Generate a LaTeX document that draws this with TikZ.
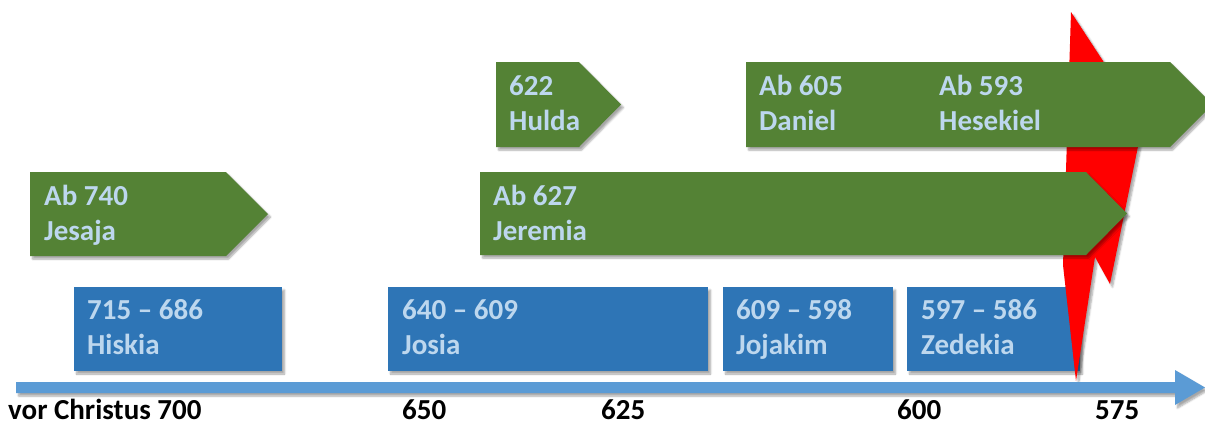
\documentclass[tikz,border=0pt]{standalone}
\usepackage{fontspec}
\setmainfont{Carlito}
\usetikzlibrary{shadows.blur}
\definecolor{prophetgreen}{RGB}{84,130,53}
\definecolor{kingblue}{RGB}{46,117,182}
\definecolor{axisblue}{RGB}{91,155,213}
\definecolor{namecol}{RGB}{189,215,238}
\tikzset{
    boxshadow/.style={blur shadow={shadow xshift=2.5pt,shadow yshift=-3pt,shadow blur steps=6,shadow opacity=35}},
    prophet/.style={fill=prophetgreen,boxshadow},
    king/.style={fill=kingblue,boxshadow},
    boxtext/.style={anchor=base west,inner sep=0pt,align=left,text=namecol,
        font=\bfseries\fontsize{29}{35}\selectfont},
    yeartext/.style={anchor=base west,inner sep=0pt,text=black,
        font=\bfseries\fontsize{29}{32}\selectfont}
}
\begin{document}
\begin{tikzpicture}[x=1pt,y=-1pt]
    \useasboundingbox (0,0) rectangle (1205,424);
    % kings
    \fill[king] (74,287) rectangle (282,371);
    \fill[king] (388,287) rectangle (708,371);
    \fill[king] (723,287) rectangle (893,371);
    \fill[king] (907,287) rectangle (1080,371);
    \node[boxtext] (hiskia) at (87,354) {715 -- 686\\Hiskia};
    \node[boxtext] (josia) at (402,354) {640 -- 609\\Josia};
    \node[boxtext] (jojakim) at (736,354) {609 -- 598\\Jojakim};
    \node[boxtext] (zedekia) at (921,354) {597 -- 586\\Zedekia};
    % lightning
    \fill[red,boxshadow] (1071,12)--(1143,122)--(1110,284)--(1095,257)--(1076,381)--(1063,265)--cycle;
    % prophets
    \fill[prophet] (30,172)--(226,172)--(268,214)--(226,256)--(30,256)--cycle;
    \fill[prophet] (496,62)--(579,62)--(621,104.5)--(579,147)--(496,147)--cycle;
    \fill[prophet] (480,172)--(1086,172)--(1127,213.5)--(1086,255)--(480,255)--cycle;
    \fill[prophet] (746,62)--(1170,62)--(1212.5,104.5)--(1170,147)--(746,147)--cycle;
    \node[boxtext] (jesaja) at (44,240) {Ab 740\\Jesaja};
    \node[boxtext] (hulda) at (509,130) {622\\Hulda};
    \node[boxtext] (jeremia) at (493,240) {Ab 627\\Jeremia};
    \node[boxtext] (daniel) at (759,130) {Ab 605\\Daniel};
    \node[boxtext] (hesekiel) at (939,130) {Ab 593\\Hesekiel};
    % time axis
    \fill[axisblue,boxshadow] (16,382)--(1175,382)--(1175,370)--(1205,387.5)--(1175,405)--(1175,393)--(16,393)--cycle;
    \node[yeartext] (y700) at (8,419) {vor Christus 700};
    \node[yeartext] (y650) at (402,419) {650};
    \node[yeartext] (y625) at (601,419) {625};
    \node[yeartext] (y600) at (897,419) {600};
    \node[yeartext] (y575) at (1095,419) {575};
\end{tikzpicture}
\end{document}
